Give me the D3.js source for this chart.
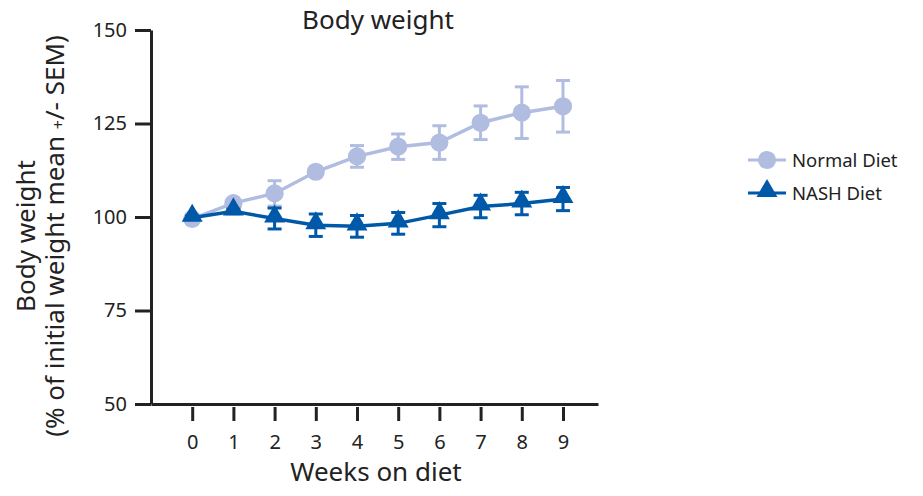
<!DOCTYPE html>
<html>
<head>
<meta charset="utf-8">
<script src="https://cdn.jsdelivr.net/npm/d3@7"></script>
<style>
  html, body { margin: 0; padding: 0; background: #fff; }
  svg text { font-family: "Noto Sans", "Open Sans", sans-serif; fill: #222; }
</style>
</head>
<body>
<svg id="chart" width="923" height="496"></svg>
<script>
/* --------------------------------------------------------------
DATA
-------------------------------------------------------------- */

const weeks = [0, 1, 2, 3, 4, 5, 6, 7, 8, 9];

const normalMean = [99.5, 103.7, 106.3, 112.1, 116.2, 118.8, 119.9, 125.2, 127.9, 129.6];
const normalSem  = [0.6, 0.8, 3.4, 1.0, 2.9, 3.4, 4.5, 4.5, 6.9, 6.9];

const nashMean = [99.8, 101.5, 99.6, 97.8, 97.5, 98.3, 100.5, 102.8, 103.6, 104.8];
const nashSem  = [0.5, 0.6, 2.8, 3.0, 2.9, 2.9, 3.1, 3.0, 3.0, 3.1];

const yTicks = [50, 75, 100, 125, 150];

const seriesNames = ["Normal Diet", "NASH Diet"];
const seriesColors = ["#b0bde0", "#0058a9"];

/* --------------------------------------------------------------
SCALES + AXES
-------------------------------------------------------------- */

const svg = d3.select("#chart");

const x = d3.scaleLinear().domain([-1, 9.85]).range([151, 598]);
const y = d3.scaleLinear().domain([50, 150]).range([404, 30]);

const xAxis = svg.append("g")
    .attr("transform", `translate(0,${y(50)})`)
    .call(d3.axisBottom(x).tickValues(weeks).tickFormat(d3.format("d"))
        .tickSizeInner(17).tickSizeOuter(0).tickPadding(14));

const yAxis = svg.append("g")
    .attr("transform", `translate(${x(-1)},0)`)
    .call(d3.axisLeft(y).tickValues(yTicks)
        .tickSizeInner(16).tickSizeOuter(0).tickPadding(8));

[xAxis, yAxis].forEach(g => {
    g.select(".domain").attr("stroke", "#222").attr("stroke-width", 3);
    g.selectAll(".tick line").attr("stroke", "#222").attr("stroke-width", 3);
    g.selectAll(".tick text").style("font-size", "20px").attr("fill", "#222");
});
// shift x tick marks below the axis line, like the original
xAxis.selectAll(".tick line").attr("y1", 3);

/* --------------------------------------------------------------
SERIES
-------------------------------------------------------------- */

const series = [
    { name: seriesNames[0], color: seriesColors[0], mean: normalMean, sem: normalSem, shape: "circle" },
    { name: seriesNames[1], color: seriesColors[1], mean: nashMean, sem: nashSem, shape: "triangle" }
];

const line = d3.line().x((d, i) => x(weeks[i])).y(d => y(d));
const circleSym = d3.symbol().type(d3.symbolCircle).size(260);
const triSym = d3.symbol().type(d3.symbolTriangle).size(190);

series.forEach(s => {
    const g = svg.append("g");

    // error bars
    const eb = g.selectAll(".eb").data(s.mean).enter().append("g");
    eb.append("line")
        .attr("x1", (d, i) => x(weeks[i])).attr("x2", (d, i) => x(weeks[i]))
        .attr("y1", (d, i) => y(d + s.sem[i])).attr("y2", (d, i) => y(d - s.sem[i]))
        .attr("stroke", s.color).attr("stroke-width", 3);
    [1, -1].forEach(sign => {
        eb.append("line")
            .attr("x1", (d, i) => x(weeks[i]) - 7).attr("x2", (d, i) => x(weeks[i]) + 7)
            .attr("y1", (d, i) => y(d + sign * s.sem[i])).attr("y2", (d, i) => y(d + sign * s.sem[i]))
            .attr("stroke", s.color).attr("stroke-width", 3);
    });

    g.append("path")
        .datum(s.mean)
        .attr("d", line)
        .attr("fill", "none")
        .attr("stroke", s.color)
        .attr("stroke-width", 3.5);

    g.selectAll(".pt").data(s.mean).enter().append("path")
        .attr("d", s.shape === "circle" ? circleSym : triSym)
        .attr("transform", (d, i) => `translate(${x(weeks[i])},${y(d) + (s.shape === "circle" ? 0 : -2)})`)
        .attr("fill", s.color);
});

/* --------------------------------------------------------------
LEGEND
-------------------------------------------------------------- */

const legend = svg.append("g");
series.forEach((s, i) => {
    const ly = 160 + i * 33;
    legend.append("line")
        .attr("x1", 748).attr("x2", 786).attr("y1", ly).attr("y2", ly)
        .attr("stroke", s.color).attr("stroke-width", 3);
    legend.append("path")
        .attr("d", s.shape === "circle" ? circleSym : triSym)
        .attr("transform", `translate(767,${ly + (s.shape === "circle" ? 0 : -2)})`)
        .attr("fill", s.color);
    legend.append("text")
        .attr("x", 792).attr("y", ly + 7)
        .style("font-size", "18.5px")
        .text(s.name);
});

/* --------------------------------------------------------------
TITLES
-------------------------------------------------------------- */

svg.append("text")
    .attr("x", 378).attr("y", 29)
    .attr("text-anchor", "middle")
    .style("font-size", "26px")
    .text("Body weight");

svg.append("text")
    .attr("x", 376).attr("y", 481)
    .attr("text-anchor", "middle")
    .style("font-size", "26px")
    .text("Weeks on diet");

const yLabel = svg.append("text")
    .attr("transform", "translate(0,236) rotate(-90)")
    .attr("text-anchor", "middle")
    .style("font-size", "26px");
yLabel.append("tspan").attr("x", 0).attr("y", 35).text("Body weight");
yLabel.append("tspan").attr("x", 0).attr("y", 64)
    .text("(% of initial weight mean ")
    .append("tspan").style("font-size", "16px").text("+")
    .select(function () { return this.parentNode; })
    .append("tspan").text("/- SEM)");
</script>
</body>
</html>
